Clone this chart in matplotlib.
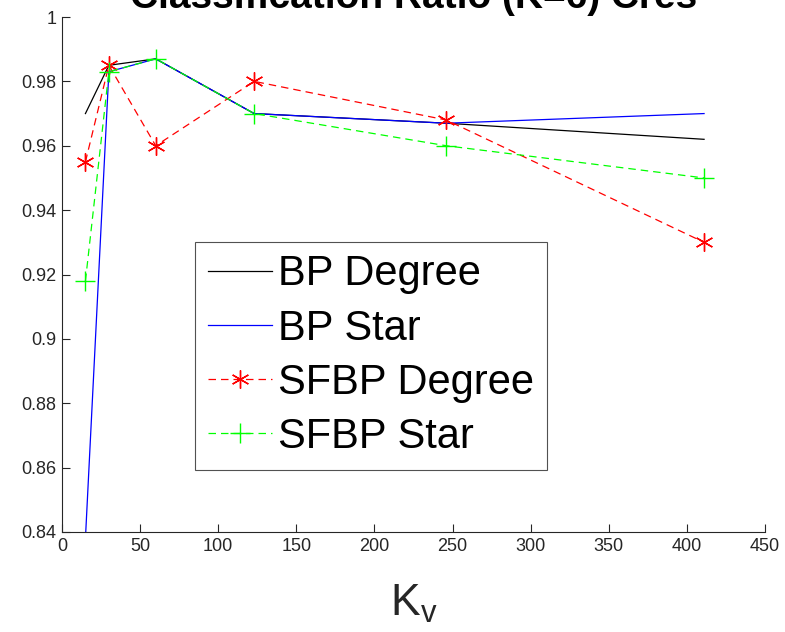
import matplotlib
matplotlib.use("Agg")
import matplotlib.pyplot as plt

kv = [15, 30, 60, 123, 246, 411]
bp_degree = [0.970, 0.985, 0.987, 0.970, 0.967, 0.962]
bp_star = [0.838, 0.983, 0.987, 0.970, 0.967, 0.970]
sfbp_degree = [0.955, 0.985, 0.960, 0.980, 0.968, 0.930]
sfbp_star = [0.918, 0.983, 0.987, 0.970, 0.960, 0.950]
series_names = ["BP Degree", "BP Star", "SFBP Degree", "SFBP Star"]
title = "Classification Ratio (K=6) Cres"
xticks = [0, 50, 100, 150, 200, 250, 300, 350, 400, 450]
yticks = [0.84, 0.86, 0.88, 0.9, 0.92, 0.94, 0.96, 0.98, 1]

plt.rcParams['font.family'] = ['Liberation Sans', 'DejaVu Sans']

fig = plt.figure(figsize=(7.85, 6.32), dpi=100)
ax = fig.add_axes([62/785, 1-532/632, (765-62)/785, (532-17)/632])

ax.plot(kv, bp_degree, color='black', lw=0.9, label=series_names[0])
ax.plot(kv, bp_star, color='blue', lw=0.9, label=series_names[1])
ax.plot(kv, sfbp_degree, color='red', lw=0.9, ls=(0, (6, 4)), marker=(6, 2, 0),
        ms=13, mew=1.0, label=series_names[2])
ax.plot(kv, sfbp_star, color='lime', lw=0.9, ls=(0, (6, 4)), marker='+',
        ms=15, mew=1.0, label=series_names[3])

ax.set_xlim(0, 450)
ax.set_ylim(0.84, 1)
ax.set_xticks(xticks)
ax.set_xticklabels([str(v) for v in xticks])
ax.set_yticks(yticks)
ax.set_yticklabels(['0.84', '0.86', '0.88', '0.9', '0.92', '0.94', '0.96', '0.98', '1'])
for s in ['top', 'right']:
    ax.spines[s].set_visible(False)
for s in ['left', 'bottom']:
    ax.spines[s].set_color('#262626')
    ax.spines[s].set_linewidth(0.8)
ax.tick_params(direction='in', length=6, width=0.8, colors='#262626',
               labelsize=13, pad=4)
ax.set_xlabel(r'K$_\mathregular{v}$', fontsize=32, color='#262626', labelpad=20)

leg = ax.legend(loc='upper left', fontsize=30, frameon=True, fancybox=False,
                handlelength=1.55, handletextpad=0.15, borderpad=0.3,
                labelspacing=0.34, borderaxespad=0)
leg.set_bbox_to_anchor((133/703, (532-242)/515), transform=ax.transAxes)
leg.get_frame().set_edgecolor('#262626')
leg.get_frame().set_linewidth(0.8)

fig.text(413.5/785, 1-8/632, title, ha='center', va='baseline',
         fontsize=28, fontweight='bold', color='black')

fig.savefig('out.png', dpi=100)
